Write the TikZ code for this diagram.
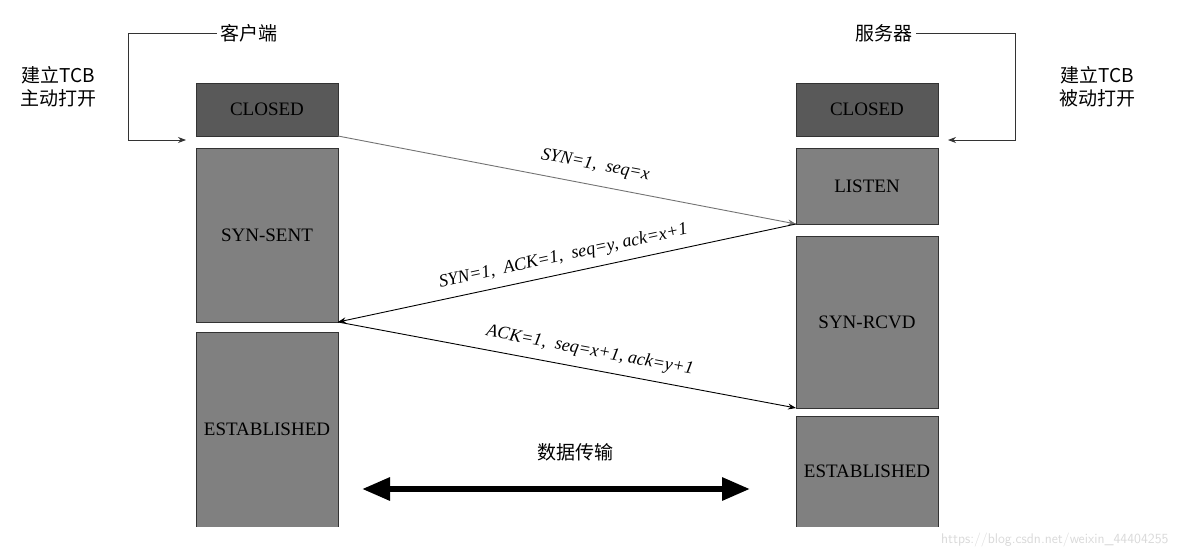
\documentclass[tikz,border=0pt]{standalone}
\usepackage{fontspec}
\setmainfont{Liberation Serif}
\newfontfamily\cjk{Noto Sans CJK SC}
\usetikzlibrary{arrows.meta}
\begin{document}
\begin{tikzpicture}[x=1pt,y=-1pt,
  st/.style={draw=black!80,line width=0.8pt,fill=black!50,minimum width=142pt,inner sep=0pt,font=\fontsize{19}{19}\selectfont},
  dk/.style={st,fill=black!65},
  msg/.style={-{Stealth[length=8pt,width=6pt]},line width=0.9pt},
  lab/.style={font=\itshape\fontsize{18}{18}\selectfont},
  cj/.style={font=\cjk\fontsize{19}{23}\selectfont,align=center}]
\useasboundingbox (0,0) rectangle (1181,557);
\node[dk,minimum height=53pt] (cc) at (267,109.5) {CLOSED};
\node[st,minimum height=174pt] (cs) at (267,235) {SYN-SENT};
\node[st,minimum height=195pt] (ce) at (267,429.5) {ESTABLISHED};
\node[dk,minimum height=53pt] (sc) at (867,109.5) {CLOSED};
\node[st,minimum height=76pt] (sl) at (867,186) {LISTEN};
\node[st,minimum height=172pt] (sr) at (867,322) {SYN-RCVD};
\node[st,minimum height=111pt] (se) at (867,471.5) {ESTABLISHED};
\fill[white] (190,527) rectangle (945,557);
\node[cj] (ct) at (249,33) {客户端};
\node[cj] (stt) at (884,33) {服务器};
\node[cj] (ca) at (58,87) {建立TCB\\主动打开};
\node[cj] (sa) at (1097,87) {建立TCB\\被动打开};
\node[cj] (dt) at (575,452) {数据传输};
\coordinate (c1) at (128,33); \coordinate (c2) at (128,140); \coordinate (c3) at (186,140);
\coordinate (s1) at (1015,33); \coordinate (s2) at (1015,140); \coordinate (s3) at (948,140);
\draw[-{Stealth[length=8pt,width=6pt]},line width=0.8pt,black!80] (ct.west) -- (c1) -- (c2) -- (c3);
\draw[-{Stealth[length=8pt,width=6pt]},line width=0.8pt,black!80] (stt.east) -- (s1) -- (s2) -- (s3);
\coordinate (a0) at (338,136); \coordinate (a1) at (796,224);
\coordinate (a2) at (338,322); \coordinate (a3) at (796,408);
\draw[msg,black!55] (a0) -- (a1) node[lab,black,midway,above=8pt,sloped,xshift=25pt] {SYN=1,\ \ seq=x};
\draw[msg] (a1) -- (a2) node[lab,midway,above=5pt,sloped] {SYN=1,\ \ ACK=1,\ \ seq=y, ack=x+1};
\draw[msg] (a2) -- (a3) node[lab,midway,above=6pt,sloped,xshift=20pt] {ACK=1,\ \ seq=x+1, ack=y+1};
\coordinate (d1) at (362,489); \coordinate (d2) at (750,489);
\draw[{Triangle[length=28pt,width=22pt]}-{Triangle[length=28pt,width=22pt]},line width=6pt] (d1) -- (d2);
\node[font=\sffamily\fontsize{14}{14}\selectfont,text=black!15,anchor=east] (wm) at (1172,540) {https://blog.csdn.net/weixin\_44404255};
\end{tikzpicture}
\end{document}
